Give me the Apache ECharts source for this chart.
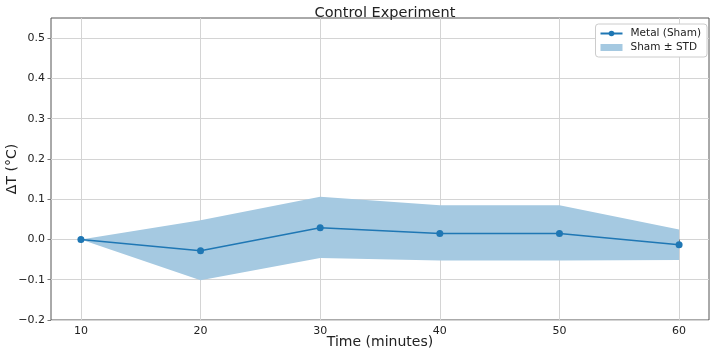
<!DOCTYPE html>
<html><head><meta charset="utf-8">
<script src="https://cdn.jsdelivr.net/npm/echarts@6/dist/echarts.min.js"></script>
<style>html,body{margin:0;padding:0;background:#fff}#c{width:714px;height:352px}</style>
</head><body><div id="c"></div>
<script>
const times = [10, 20, 30, 40, 50, 60];
const metalSham = [0, -0.028, 0.029, 0.015, 0.015, -0.013];
const bandUpper = [0, 0.048, 0.106, 0.085, 0.085, 0.025];
const bandLower = [0, -0.101, -0.046, -0.052, -0.052, -0.051];
const xTicks = [10, 20, 30, 40, 50, 60];
const yTicks = [-0.2, -0.1, 0, 0.1, 0.2, 0.3, 0.4, 0.5];

const font = 'DejaVu Sans';
const fmt = v => { const s = Math.abs(v).toFixed(1); return (v < -1e-9 ? '\u2212' : '') + s; };

const chart = echarts.init(document.getElementById('c'), null, {renderer: 'canvas'});
chart.setOption({
  animation: false,
  backgroundColor: '#fff',
  textStyle: {fontFamily: font},
  title: {
    text: 'Control Experiment', left: 380, top: 1, textAlign: 'center',
    textStyle: {fontFamily: font, fontSize: 14.5, fontWeight: 'normal', color: '#222'}
  },
  legend: {
    right: 7, top: 24, orient: 'vertical',
    backgroundColor: '#fff', borderColor: '#ccc', borderWidth: 1, borderRadius: 3,
    padding: [4, 6, 4, 4], itemGap: 3, itemWidth: 22, itemHeight: 7,
    textStyle: {fontFamily: font, fontSize: 10.5, color: '#222', padding: [0, 0, 0, 3]},
    data: [
      {name: 'Metal (Sham)'},
      {name: 'Sham \u00b1 STD', icon: 'rect', itemStyle: {color: '#a5c9e1'}}
    ]
  },
  grid: {left: 51, right: 5, top: 18, bottom: 32, show: true, borderColor: '#555', borderWidth: 1,
         backgroundColor: 'transparent', containLabel: false, outerBoundsMode: 'none'},
  xAxis: {
    type: 'value', min: 7.5, max: 62.5,
    name: 'Time (minutes)', nameLocation: 'middle', nameGap: 15, nameMoveOverlap: false,
    nameTextStyle: {fontFamily: font, fontSize: 14, color: '#222', verticalAlign: 'top'},
    axisLine: {show: false},
    axisTick: {show: true, customValues: xTicks, length: 3.5, lineStyle: {color: '#777'}},
    axisLabel: {customValues: xTicks, fontFamily: font, fontSize: 11, color: '#222', margin: 6},
    splitLine: {show: true, lineStyle: {color: '#d4d4d4', width: 1}}
  },
  yAxis: {
    type: 'value', min: -0.2, max: 0.55,
    name: '\u0394T (\u00b0C)', nameLocation: 'middle', nameGap: 32, nameMoveOverlap: false,
    nameTextStyle: {fontFamily: font, fontSize: 14, color: '#222'},
    axisLine: {show: false},
    axisTick: {show: true, customValues: yTicks, length: 3.5, lineStyle: {color: '#777'}},
    axisLabel: {customValues: yTicks, formatter: fmt, fontFamily: font, fontSize: 11, color: '#222', margin: 6},
    splitLine: {show: true, lineStyle: {color: '#d4d4d4', width: 1}}
  },
  series: [
    {
      name: 'Sham \u00b1 STD', type: 'custom', z: 1, silent: true,
      itemStyle: {color: '#a5c9e1'},
      data: times.map((t, i) => [t, bandLower[i], bandUpper[i]]),
      encode: {x: 0, y: [1, 2]},
      renderItem: function (params, api) {
        if (params.dataIndex !== 0) return null;
        const upper = times.map((t, i) => api.coord([t, bandUpper[i]]));
        const lower = times.map((t, i) => api.coord([t, bandLower[i]])).reverse();
        return {
          type: 'polygon',
          shape: {points: upper.concat(lower)},
          style: {fill: '#a5c9e1'}
        };
      }
    },
    {
      name: 'Metal (Sham)', type: 'line',
      data: times.map((t, i) => [t, metalSham[i]]),
      symbol: 'circle', symbolSize: 7, showAllSymbol: true,
      lineStyle: {color: '#1f77b4', width: 1.5}, itemStyle: {color: '#1f77b4'}, z: 3
    }
  ]
});
</script></body></html>
